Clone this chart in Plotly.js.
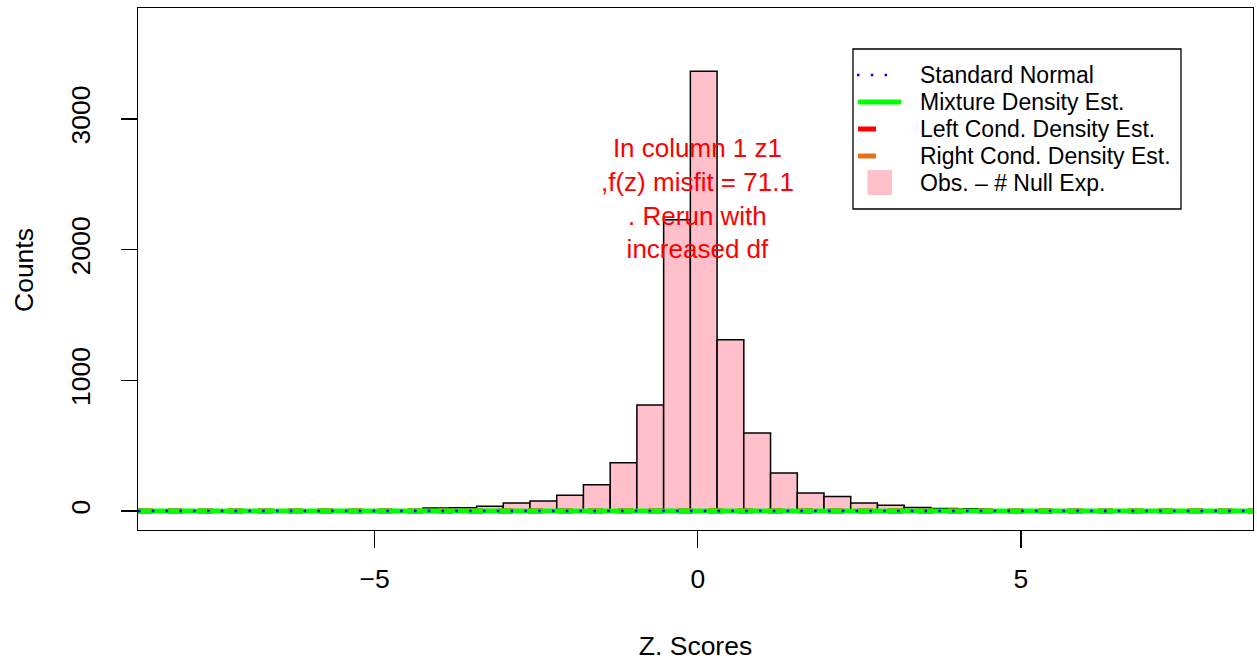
<!DOCTYPE html>
<html><head><meta charset="utf-8">
<script src="https://cdn.plot.ly/plotly-3.0.1.min.js"></script>
<style>html,body{margin:0;padding:0;background:#fff}#chart{width:1257px;height:665px}</style>
</head><body><div id="chart"></div>
<script>
// ---- data ----
const binCenters = [-4.043, -3.629, -3.216, -2.802, -2.389, -1.975, -1.562, -1.148, -0.735, -0.321, 0.092, 0.506, 0.919, 1.333, 1.746, 2.160, 2.573, 2.987, 3.400, 3.814, 4.227];
const obsMinusNull = [24, 25, 36, 61, 77, 120, 202, 370, 811, 2229, 3366, 1311, 597, 291, 138, 112, 61, 44, 28, 20, 18];
const binWidth = 0.4135;
const curveZ = [-8.66, -7, -6, -5, -4, -3, -2, -1, 0, 1, 2, 3, 4, 5, 6, 7, 8.59];
const standardNormal   = [0,0,0,0,0,0,0,0,0,0,0,0,0,0,0,0,0];
const mixtureDensity   = [0,0,0,0,0,0,0,0,0,0,0,0,0,0,0,0,0];
const leftCondDensity  = [0,0,0,0,0,0,0,0,0,0,0,0,0,0,0,0,0];
const rightCondDensity = [0,0,0,0,0,0,0,0,0,0,0,0,0,0,0,0,0];
const xTicks = [-5, 0, 5];
const yTicks = [0, 1000, 2000, 3000];
const xTitle = "Z. Scores", yTitle = "Counts";
const legendLabels = ["Standard Normal", "Mixture Density Est.", "Left Cond. Density Est.", "Right Cond. Density Est.", "Obs. \u2013 # Null Exp."];
const noteLines = ["In column 1 z1", ",f(z) misfit = 71.1", ". Rerun with", "increased df"];
const noteX = 0, noteY = 2395;

// ---- styles ----
const FONT = "Liberation Sans, Arial, Helvetica, sans-serif";
const PINK = "#FFC0CB", GREEN = "#00FF00", BLUE = "#0000FF", RED = "#FF0000", ORANGE = "#E8701A";
const DOTS = "2.5px,11.3px";
const M = {l: 138, r: 4, t: 8, b: 135};
const W = 1257, H = 665, PW = W - M.l - M.r, PH = H - M.t - M.b;
const px = X => (X - M.l) / PW;
const py = Y => (H - M.b - Y) / PH;

const traces = [
  {type: "bar", x: binCenters, y: obsMinusNull, width: binWidth,
   marker: {color: PINK, line: {color: "#000", width: 1.5}}, showlegend: false, hoverinfo: "x+y"},
  {type: "scatter", mode: "lines", x: curveZ, y: leftCondDensity, line: {color: RED, width: 5, dash: "dash"}, showlegend: false},
  {type: "scatter", mode: "lines", x: curveZ, y: rightCondDensity, line: {color: ORANGE, width: 5, dash: "dash"}, showlegend: false},
  {type: "scatter", mode: "lines", x: curveZ, y: mixtureDensity, line: {color: GREEN, width: 5}, showlegend: false},
  {type: "scatter", mode: "lines", x: curveZ, y: standardNormal, line: {color: BLUE, width: 2.5, dash: DOTS}, showlegend: false}
];

// legend (R-style box)
const rows = [75, 102, 129, 156, 182.5];
const shapes = [
  {type: "rect", xref: "paper", yref: "paper", x0: px(853), x1: px(1181), y0: py(209), y1: py(49),
   line: {color: "#000", width: 1.3}, fillcolor: "#fff", layer: "above"},
  {type: "line", xref: "paper", yref: "paper", x0: px(857), x1: px(890), y0: py(rows[0]), y1: py(rows[0]),
   line: {color: BLUE, width: 2.5, dash: DOTS}, layer: "above"},
  {type: "line", xref: "paper", yref: "paper", x0: px(858), x1: px(901), y0: py(rows[1]), y1: py(rows[1]),
   line: {color: GREEN, width: 5}, layer: "above"},
  {type: "line", xref: "paper", yref: "paper", x0: px(858), x1: px(876), y0: py(rows[2]), y1: py(rows[2]),
   line: {color: RED, width: 5}, layer: "above"},
  {type: "line", xref: "paper", yref: "paper", x0: px(858), x1: px(876), y0: py(rows[3]), y1: py(rows[3]),
   line: {color: ORANGE, width: 5}, layer: "above"},
  {type: "rect", xref: "paper", yref: "paper", x0: px(867.5), x1: px(892), y0: py(195), y1: py(170),
   line: {width: 0}, fillcolor: PINK, layer: "above"}
];
const annotations = legendLabels.map((t, i) => ({
  text: t, xref: "paper", yref: "paper", x: px(918), y: py(rows[i]), xanchor: "left", yanchor: "middle",
  showarrow: false, font: {family: FONT, size: 23, color: "#000"}
}));
annotations.push({
  text: noteLines.join("<br>"), x: noteX, y: noteY, xref: "x", yref: "y", xanchor: "center", yanchor: "middle",
  showarrow: false, font: {family: FONT, size: 26, color: RED}
});
annotations.push({
  text: yTitle, xref: "paper", yref: "paper", x: px(24), y: py(270), xanchor: "center", yanchor: "middle",
  textangle: -90, showarrow: false, font: {family: FONT, size: 26.5, color: "#000"}
});

const layout = {
  width: W, height: H, margin: M, paper_bgcolor: "#fff", plot_bgcolor: "#fff",
  font: {family: FONT, size: 26, color: "#000"},
  showlegend: false, bargap: 0,
  xaxis: {range: [-8.66, 8.59], tickmode: "array", tickvals: xTicks, ticks: "outside", ticklen: 17, tickwidth: 1.3,
    tickcolor: "#000", showline: true, mirror: true, linecolor: "#000", linewidth: 1.3, showgrid: false, zeroline: false,
    tickfont: {size: 26.5}, ticklabelstandoff: 8,
    title: {text: xTitle, font: {size: 26.5}, standoff: 43}},
  yaxis: {range: [-145, 3850], tickmode: "array", tickvals: yTicks, ticks: "outside", ticklen: 16, tickwidth: 1.3,
    tickcolor: "#000", showline: true, mirror: true, linecolor: "#000", linewidth: 1.3, showgrid: false, zeroline: false,
    tickangle: -90, tickfont: {size: 26.5}, ticklabelstandoff: 20},
  shapes: shapes, annotations: annotations
};
Plotly.newPlot("chart", traces, layout, {displayModeBar: false, staticPlot: true});
</script></body></html>
